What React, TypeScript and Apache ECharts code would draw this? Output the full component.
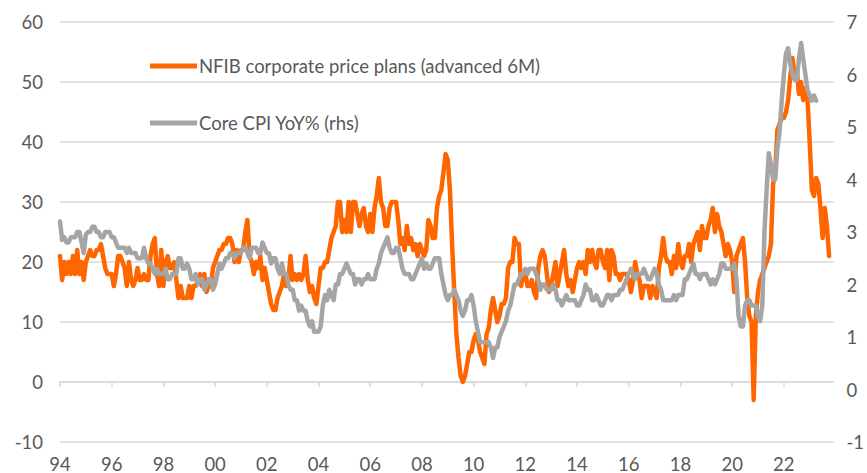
import React, { useEffect, useRef } from "react";
import * as echarts from "echarts";

// Monthly observations, first point = Jan 1994
const START_YEAR = 1994;

// NFIB corporate price plans (advanced 6M), left axis
const nfibPricePlans: number[] = [
  // 1994
  21, 17, 20, 18, 20, 18, 21, 18, 22, 18, 20, 17,
  // 1995
  20, 21, 22, 21, 21, 22, 22, 23, 21, 19, 18, 18,
  // 1996
  18, 16, 18, 21, 21, 20, 19, 16, 20, 17, 16, 17,
  // 1997
  19, 17, 17, 18, 17, 17, 21, 23, 24, 18, 16, 22,
  // 1998
  16, 20, 21, 19, 19, 20, 17, 14, 16, 14, 14, 14,
  // 1999
  16, 14, 16, 16, 17, 18, 16, 18, 15, 16, 16, 19,
  // 2000
  20, 21, 22, 22, 23, 23, 24, 24, 23, 20, 22, 20,
  // 2001
  22, 22, 25, 27, 21, 20, 18, 20, 19, 21, 17, 19,
  // 2002
  17, 15, 13, 12, 12, 14, 15, 16, 18, 16, 17, 21,
  // 2003
  17, 18, 17, 18, 17, 18, 21, 17, 15, 16, 14, 13,
  // 2004
  16, 19, 19, 20, 20, 22, 24, 25, 26, 30, 30, 25,
  // 2005
  27, 25, 30, 25, 30, 30, 28, 26, 28, 29, 26, 25,
  // 2006
  28, 25, 29, 31, 34, 30, 29, 26, 26, 29, 30, 30,
  // 2007
  30, 27, 23, 24, 22, 26, 23, 24, 22, 23, 21, 23,
  // 2008
  22, 21, 22, 27, 26, 24, 24, 29, 31, 32, 35, 38,
  // 2009
  37, 32, 23, 15, 8, 4, 1, 0, 1, 3, 5, 5,
  // 2010
  7, 8, 7, 5, 4, 3, 8, 9, 12, 14, 12, 10,
  // 2011
  11, 13, 13, 14, 19, 20, 20, 24, 23, 23, 16, 18,
  // 2012
  18, 16, 16, 17, 15, 14, 19, 21, 22, 21, 18, 15,
  // 2013
  16, 18, 20, 16, 18, 20, 22, 18, 16, 17, 15, 17,
  // 2014
  19, 20, 19, 20, 18, 22, 20, 22, 20, 19, 22, 22,
  // 2015
  20, 19, 22, 17, 22, 21, 18, 18, 17, 18, 18, 18,
  // 2016
  17, 15, 17, 20, 18, 17, 14, 16, 16, 16, 14, 16,
  // 2017
  15, 14, 19, 21, 24, 21, 20, 20, 18, 21, 19, 23,
  // 2018
  20, 19, 21, 21, 23, 20, 23, 24, 25, 22, 26, 24,
  // 2019
  24, 26, 27, 29, 25, 28, 26, 25, 23, 21, 23, 22,
  // 2020
  20, 15, 21, 22, 23, 24, 20, 14, 11, 10, -3, 11,
  // 2021
  15, 17, 18, 19, 20, 21, 23, 33, 35, 42, 43, 44,
  // 2022
  44, 45, 47, 51, 54, 51, 52, 48, 50, 47, 49, 47,
  // 2023
  40, 32, 31, 34, 33, 29, 24, 29, 26, 21,
];

// Core CPI YoY% (rhs)
const coreCpiYoY: number[] = [
  // 1994
  3.2, 2.85, 2.9, 2.8, 2.8, 2.9, 2.9, 2.9, 3.0, 3.0, 2.8, 2.6,
  // 1995
  2.95, 3.0, 3.0, 3.1, 3.1, 3.0, 3.0, 2.9, 2.9, 3.0, 3.0, 3.0,
  // 1996
  2.9, 2.9, 2.8, 2.7, 2.7, 2.7, 2.7, 2.6, 2.7, 2.6, 2.6, 2.6,
  // 1997
  2.5, 2.5, 2.5, 2.7, 2.5, 2.4, 2.4, 2.3, 2.2, 2.3, 2.2, 2.2,
  // 1998
  2.2, 2.3, 2.1, 2.1, 2.2, 2.2, 2.2, 2.5, 2.5, 2.3, 2.3, 2.4,
  // 1999
  2.3, 2.1, 2.1, 2.2, 2.0, 2.1, 2.1, 1.9, 2.0, 2.1, 2.1, 1.9,
  // 2000
  2.0, 2.2, 2.4, 2.3, 2.4, 2.5, 2.5, 2.6, 2.6, 2.5, 2.6, 2.6,
  // 2001
  2.6, 2.7, 2.7, 2.6, 2.5, 2.7, 2.7, 2.7, 2.6, 2.6, 2.8, 2.7,
  // 2002
  2.6, 2.6, 2.4, 2.5, 2.5, 2.3, 2.2, 2.4, 2.2, 2.2, 2.0, 1.9,
  // 2003
  1.9, 1.7, 1.7, 1.5, 1.6, 1.5, 1.5, 1.3, 1.2, 1.3, 1.1, 1.1,
  // 2004
  1.1, 1.2, 1.6, 1.8, 1.7, 1.9, 1.8, 1.7, 2.0, 2.0, 2.2, 2.2,
  // 2005
  2.3, 2.4, 2.3, 2.2, 2.2, 2.0, 2.1, 2.1, 2.0, 2.1, 2.1, 2.2,
  // 2006
  2.1, 2.1, 2.1, 2.3, 2.4, 2.6, 2.7, 2.8, 2.9, 2.7, 2.6, 2.6,
  // 2007
  2.7, 2.7, 2.5, 2.3, 2.2, 2.2, 2.2, 2.1, 2.1, 2.2, 2.3, 2.4,
  // 2008
  2.5, 2.3, 2.4, 2.3, 2.3, 2.4, 2.5, 2.5, 2.5, 2.2, 2.0, 1.8,
  // 2009
  1.7, 1.8, 1.8, 1.9, 1.8, 1.7, 1.5, 1.4, 1.5, 1.7, 1.7, 1.8,
  // 2010
  1.6, 1.3, 1.1, 0.9, 0.9, 0.9, 0.9, 0.9, 0.8, 0.6, 0.8, 0.8,
  // 2011
  1.0, 1.1, 1.2, 1.3, 1.5, 1.6, 1.8, 2.0, 2.0, 2.1, 2.2, 2.2,
  // 2012
  2.3, 2.2, 2.3, 2.3, 2.3, 2.2, 2.1, 1.9, 2.0, 2.0, 1.9, 1.9,
  // 2013
  1.9, 2.0, 1.9, 1.7, 1.7, 1.6, 1.7, 1.8, 1.7, 1.7, 1.7, 1.7,
  // 2014
  1.6, 1.6, 1.7, 1.8, 2.0, 1.9, 1.9, 1.7, 1.7, 1.8, 1.7, 1.6,
  // 2015
  1.6, 1.7, 1.8, 1.8, 1.7, 1.8, 1.8, 1.8, 1.9, 1.9, 2.0, 2.1,
  // 2016
  2.2, 2.3, 2.2, 2.1, 2.2, 2.2, 2.2, 2.3, 2.2, 2.1, 2.1, 2.2,
  // 2017
  2.3, 2.2, 2.0, 1.9, 1.7, 1.7, 1.7, 1.7, 1.7, 1.8, 1.7, 1.8,
  // 2018
  1.8, 1.8, 2.1, 2.1, 2.2, 2.3, 2.4, 2.2, 2.2, 2.1, 2.2, 2.2,
  // 2019
  2.2, 2.1, 2.0, 2.1, 2.0, 2.1, 2.2, 2.4, 2.4, 2.3, 2.3, 2.3,
  // 2020
  2.3, 2.4, 2.1, 1.4, 1.2, 1.2, 1.6, 1.7, 1.7, 1.6, 1.6, 1.6,
  // 2021
  1.4, 1.3, 1.6, 3.0, 3.8, 4.5, 4.3, 4.0, 4.0, 4.6, 4.9, 5.5,
  // 2022
  6.0, 6.4, 6.5, 6.2, 6.0, 5.9, 5.9, 6.3, 6.6, 6.3, 6.0, 5.7,
  // 2023
  5.6, 5.5, 5.6, 5.5,
];

const xTickYears = [1994, 1996, 1998, 2000, 2002, 2004, 2006, 2008, 2010, 2012, 2014, 2016, 2018, 2020, 2022];
const X_MIN = 1994;
const X_MAX = 1994 + 359 / 12; // Dec 2023

const NAME_NFIB = "NFIB corporate price plans (advanced 6M)";
const NAME_CPI = "Core CPI YoY% (rhs)";

const FONT = "Lato";
const FONT_SIZE = 18.5;
const TEXT_COLOR = "#595959";
const GRID_COLOR = "#D9D9D9";

export default function App() {
  const ref = useRef<HTMLDivElement>(null);

  useEffect(() => {
    if (!ref.current) return;
    const chart = echarts.init(ref.current, null, { renderer: "svg" });
    const toXY = (arr: number[]) => arr.map((v, i) => [START_YEAR + i / 12, v]);

    chart.setOption({
      animation: false,
      backgroundColor: "#ffffff",
      textStyle: { fontFamily: FONT },
      grid: { left: 60, right: 30, top: 22, bottom: 31, containLabel: false },
      legend: {
        orient: "vertical",
        left: 145,
        top: 50,
        itemGap: 35,
        itemWidth: 47,
        itemHeight: 5,
        icon: "rect",
        textStyle: { fontFamily: FONT, fontSize: FONT_SIZE, color: TEXT_COLOR, lineHeight: 22, padding: [0, 0, 0, -3] },
        data: [NAME_NFIB, NAME_CPI],
      },
      xAxis: [
        {
          type: "value",
          min: X_MIN,
          max: X_MAX,
          position: "bottom",
          axisLine: { show: true, onZero: true, onZeroAxisIndex: 0, lineStyle: { color: GRID_COLOR, width: 1.5 } },
          axisTick: { show: true, length: 5, customValues: xTickYears, lineStyle: { color: GRID_COLOR, width: 1.5 } },
          axisLabel: { show: false },
          splitLine: { show: false },
        },
        {
          type: "value",
          min: X_MIN,
          max: X_MAX,
          position: "bottom",
          axisLine: { show: false, onZero: false },
          axisTick: { show: false },
          splitLine: { show: false },
          axisLabel: {
            show: true,
            customValues: xTickYears,
            margin: 12,
            color: TEXT_COLOR,
            fontSize: FONT_SIZE,
            fontFamily: FONT,
            formatter: (v: number) => String(Math.round(v) % 100).padStart(2, "0"),
          },
        },
      ],
      yAxis: [
        {
          type: "value",
          min: -10,
          max: 60,
          interval: 10,
          position: "left",
          axisLine: { show: false },
          axisTick: { show: false },
          axisLabel: { margin: 17, color: TEXT_COLOR, fontSize: FONT_SIZE, fontFamily: FONT },
          splitLine: { show: true, lineStyle: { color: GRID_COLOR, width: 1.5 } },
        },
        {
          type: "value",
          min: -1,
          max: 7,
          interval: 1,
          position: "right",
          axisLine: { show: false },
          axisTick: { show: false },
          axisLabel: { margin: 13, color: TEXT_COLOR, fontSize: FONT_SIZE, fontFamily: FONT },
          splitLine: { show: false },
        },
      ],
      series: [
        {
          name: NAME_NFIB,
          type: "line",
          xAxisIndex: 0,
          yAxisIndex: 0,
          data: toXY(nfibPricePlans),
          showSymbol: false,
          symbol: "none",
          color: "#FF6600",
          lineStyle: { color: "#FF6600", width: 4.5, join: "round", cap: "round" },
          z: 2,
        },
        {
          name: NAME_CPI,
          type: "line",
          xAxisIndex: 0,
          yAxisIndex: 1,
          data: toXY(coreCpiYoY),
          showSymbol: false,
          symbol: "none",
          color: "#A5A5A5",
          lineStyle: { color: "#A5A5A5", width: 4.5, join: "round", cap: "round" },
          z: 3,
        },
      ],
    });

    return () => chart.dispose();
  }, []);

  return (
    <div
      ref={ref}
      style={{ position: "absolute", left: 0, top: 0, width: 867, height: 473, background: "#fff" }}
    />
  );
}
